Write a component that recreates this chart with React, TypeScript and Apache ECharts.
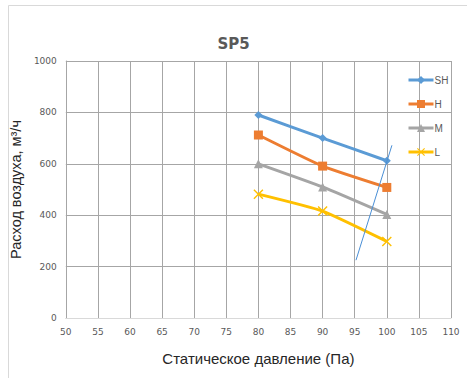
import React, { useEffect, useRef } from "react";
import * as echarts from "echarts";

const pressures = [80, 90, 100];
const shValues = [790, 700, 612];
const hValues = [712, 591, 508];
const mValues = [600, 510, 403];
const lValues = [482, 416, 298];
const refLineX = [95.2, 100.8];
const refLineY = [225, 672];
const seriesNames = ["SH", "H", "M", "L"];

const xMarker = "path://M0,1L1,0L5,4L9,0L10,1L6,5L10,9L9,10L5,6L1,10L0,9L4,5Z";

export default function App() {
  const ref = useRef<HTMLDivElement>(null);
  useEffect(() => {
    if (!ref.current) return;
    const chart = echarts.init(ref.current, undefined, { renderer: "svg" });
    const pts = (vals: number[]) => pressures.map((p, i) => [p, vals[i]]);
    const lineSeries = (name: string, vals: number[], color: string, symbol: string, size: number) => ({
      name,
      type: "line",
      data: pts(vals),
      smooth: 0.15,
      symbol,
      symbolSize: size,
      showSymbol: true,
      lineStyle: { color, width: 3 },
      itemStyle: { color },
      z: 3,
    });
    chart.setOption({
      animation: false,
      backgroundColor: "#ffffff",
      title: {
        text: "SP5",
        left: "center",
        top: 31,
        textStyle: { fontSize: 15, fontWeight: "bold", color: "#595959", fontFamily: "DejaVu Sans" },
      },
      graphic: [
        {
          type: "rect",
          shape: { x: 8.5, y: 5.5, width: 470, height: 400 },
          style: { fill: "none", stroke: "#d9d9d9", lineWidth: 1 },
          silent: true,
        },
      ],
      legend: {
        data: seriesNames,
        orient: "vertical",
        left: 402,
        top: 70,
        itemGap: 14,
        itemWidth: 25,
        itemHeight: 10,
        lineStyle: { width: 3 },
        textStyle: { fontSize: 10, color: "#595959", padding: [0, 0, 0, -4] },
      },
      grid: { left: 52, top: 61, right: 16, bottom: 60 },
      xAxis: {
        type: "value",
        min: 50,
        max: 110,
        interval: 5,
        name: "Статическое давление (Па)",
        nameLocation: "middle",
        nameGap: 33,
        nameTextStyle: { fontSize: 15, color: "#262626", fontFamily: "Liberation Sans" },
        axisLine: { show: true, lineStyle: { color: "#d9d9d9" } },
        axisTick: { show: false },
        axisLabel: { fontSize: 9, color: "#595959", margin: 9, fontFamily: "DejaVu Sans" },
        splitLine: { show: true, lineStyle: { color: "#a6a6a6", width: 1 } },
      },
      yAxis: {
        type: "value",
        min: 0,
        max: 1000,
        interval: 200,
        name: "Расход воздуха, м³/ч",
        nameLocation: "middle",
        nameGap: 27,
        nameTextStyle: { fontSize: 14.5, color: "#262626", fontFamily: "Liberation Sans" },
        axisLine: { show: true, lineStyle: { color: "#a6a6a6" } },
        axisTick: { show: false },
        axisLabel: {
          fontSize: 9,
          color: "#595959",
          margin: 9,
          fontFamily: "DejaVu Sans",
          formatter: (v: number) => String(v),
        },
        splitLine: { show: true, lineStyle: { color: "#a6a6a6", width: 1 } },
      },
      series: [
        lineSeries("SH", shValues, "#5b9bd5", "diamond", 8),
        lineSeries("H", hValues, "#ed7d31", "rect", 9),
        lineSeries("M", mValues, "#a5a5a5", "triangle", 9),
        lineSeries("L", lValues, "#ffc000", xMarker, 10),
        {
          name: "ref",
          type: "line",
          data: refLineX.map((x, i) => [x, refLineY[i]]),
          symbol: "none",
          lineStyle: { color: "#4a8fd6", width: 1 },
          z: 4,
        },
      ],
    });
    return () => chart.dispose();
  }, []);
  return (
    <div
      ref={ref}
      style={{ position: "fixed", left: 0, top: 0, width: 467, height: 378 }}
    />
  );
}
